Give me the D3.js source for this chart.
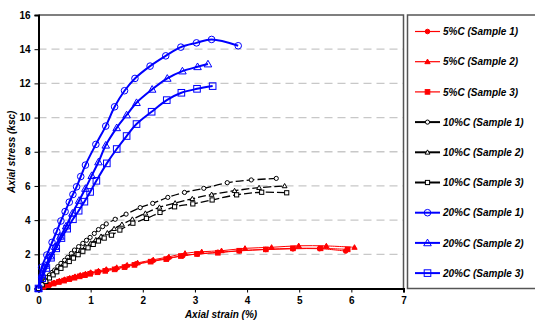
<!DOCTYPE html>
<html>
<head>
<meta charset="utf-8">
<script src="https://cdn.jsdelivr.net/npm/d3@7"></script>
<style>
  html, body { margin: 0; padding: 0; background: #fff; }
  svg { display: block; font-family: "Liberation Sans", Arial, sans-serif; }
</style>
</head>
<body>
<svg id="chart" width="535" height="323"></svg>
<script>
// Axis ticks
const xTicks = [0, 1, 2, 3, 4, 5, 6, 7];
const yTicks = [0, 2, 4, 6, 8, 10, 12, 14, 16];

// Series names (legend order)
const seriesNames = [
  "5%C (Sample 1)", "5%C (Sample 2)", "5%C (Sample 3)",
  "10%C (Sample 1)", "10%C (Sample 2)", "10%C (Sample 3)",
  "20%C (Sample 1)", "20%C (Sample 2)", "20%C (Sample 3)"
];

// 5% cement
const c5s1Strain = [0, 0.1, 0.2, 0.3, 0.4, 0.5, 0.6, 0.7, 0.8, 0.9, 1.0, 1.15, 1.3, 1.49, 1.68, 1.87, 2.19, 2.49, 2.77, 3.05, 3.44, 3.85, 4.36, 4.88, 5.39, 5.89];
const c5s1Stress = [0, 0.12, 0.22, 0.32, 0.42, 0.5, 0.58, 0.66, 0.74, 0.82, 0.9, 0.99, 1.07, 1.16, 1.3, 1.44, 1.62, 1.78, 1.92, 2.02, 2.12, 2.2, 2.28, 2.32, 2.33, 2.19];
const c5s2Strain = [0, 0.1, 0.2, 0.3, 0.4, 0.5, 0.6, 0.7, 0.8, 0.9, 1.0, 1.15, 1.3, 1.5, 1.7, 1.9, 2.2, 2.5, 2.81, 3.13, 3.51, 3.96, 4.47, 4.99, 5.52, 6.06];
const c5s2Stress = [0, 0.13, 0.24, 0.34, 0.44, 0.53, 0.61, 0.7, 0.78, 0.86, 0.94, 1.03, 1.12, 1.23, 1.37, 1.5, 1.68, 1.85, 2.06, 2.15, 2.21, 2.35, 2.41, 2.5, 2.49, 2.41];
const c5s3Strain = [0, 0.09, 0.19, 0.29, 0.39, 0.49, 0.59, 0.69, 0.79, 0.89, 0.99, 1.13, 1.28, 1.46, 1.65, 1.84, 2.15, 2.45, 2.73, 3.04, 3.44, 3.85, 4.36, 4.88, 5.41, 5.93];
const c5s3Stress = [0, 0.1, 0.2, 0.29, 0.38, 0.46, 0.55, 0.63, 0.71, 0.78, 0.86, 0.95, 1.03, 1.12, 1.25, 1.38, 1.57, 1.72, 1.9, 2.02, 2.09, 2.21, 2.29, 2.35, 2.35, 2.29];

// 10% cement
const c10s1Strain = [0, 0.06, 0.11, 0.16, 0.21, 0.26, 0.31, 0.37, 0.43, 0.5, 0.56, 0.63, 0.69, 0.77, 0.85, 0.92, 0.99, 1.07, 1.15, 1.23, 1.30, 1.47, 1.68, 1.95, 2.19, 2.48, 2.80, 3.17, 3.62, 4.08, 4.56];
const c10s1Stress = [0, 0.25, 0.5, 0.65, 0.79, 0.94, 1.08, 1.28, 1.47, 1.65, 1.82, 2.05, 2.25, 2.45, 2.64, 2.82, 2.99, 3.22, 3.45, 3.62, 3.78, 4.05, 4.35, 4.73, 4.98, 5.33, 5.62, 5.86, 6.19, 6.35, 6.44];
const c10s2Strain = [0, 0.07, 0.13, 0.2, 0.27, 0.34, 0.41, 0.48, 0.56, 0.64, 0.72, 0.81, 0.90, 1.0, 1.1, 1.2, 1.32, 1.45, 1.6, 1.8, 2.05, 2.32, 2.62, 2.95, 3.32, 3.76, 4.23, 4.72];
const c10s2Stress = [0, 0.25, 0.45, 0.65, 0.85, 1.05, 1.25, 1.45, 1.65, 1.85, 2.05, 2.25, 2.45, 2.65, 2.85, 3.05, 3.25, 3.5, 3.75, 4.05, 4.4, 4.75, 5.0, 5.25, 5.5, 5.72, 5.9, 6.0];
const c10s3Strain = [0, 0.07, 0.14, 0.21, 0.28, 0.35, 0.43, 0.51, 0.59, 0.67, 0.76, 0.85, 0.95, 1.05, 1.15, 1.26, 1.40, 1.56, 1.81, 2.07, 2.33, 2.61, 2.96, 3.33, 3.80, 4.28, 4.76];
const c10s3Stress = [0, 0.22, 0.42, 0.62, 0.8, 0.98, 1.18, 1.38, 1.58, 1.78, 1.98, 2.18, 2.38, 2.58, 2.78, 2.95, 3.12, 3.42, 3.82, 4.1, 4.45, 4.78, 4.95, 5.18, 5.48, 5.63, 5.60];

// 20% cement
const c20s1Strain = [0, 0.06, 0.16, 0.26, 0.35, 0.43, 0.51, 0.59, 0.66, 0.73, 0.81, 0.90, 1.10, 1.29, 1.46, 1.65, 1.85, 2.14, 2.44, 2.73, 3.03, 3.32, 3.83];
const c20s1Stress = [0, 1.24, 1.96, 2.70, 3.34, 3.95, 4.5, 5.05, 5.5, 5.95, 6.55, 7.22, 8.43, 9.50, 10.63, 11.57, 12.29, 13.01, 13.61, 14.12, 14.37, 14.57, 14.20];
const c20s2Strain = [0, 0.07, 0.14, 0.23, 0.32, 0.42, 0.53, 0.65, 0.78, 0.90, 1.02, 1.15, 1.29, 1.50, 1.69, 1.88, 2.18, 2.47, 2.76, 3.05, 3.25];
const c20s2Stress = [0, 0.8, 1.35, 1.9, 2.45, 3.05, 3.65, 4.4, 5.15, 5.85, 6.6, 7.4, 8.38, 9.40, 10.15, 10.87, 11.65, 12.29, 12.72, 12.97, 13.13];
const c20s3Strain = [0, 0.07, 0.15, 0.24, 0.34, 0.44, 0.55, 0.66, 0.77, 0.88, 0.99, 1.11, 1.31, 1.50, 1.69, 1.88, 2.17, 2.46, 2.74, 3.04, 3.34];
const c20s3Stress = [0, 0.6, 1.2, 1.8, 2.35, 2.95, 3.5, 4.05, 4.55, 5.08, 5.65, 6.3, 7.32, 8.16, 8.92, 9.62, 10.34, 11.02, 11.45, 11.68, 11.84];

const strains = [c5s1Strain, c5s2Strain, c5s3Strain, c10s1Strain, c10s2Strain, c10s3Strain, c20s1Strain, c20s2Strain, c20s3Strain];
const stresses = [c5s1Stress, c5s2Stress, c5s3Stress, c10s1Stress, c10s2Stress, c10s3Stress, c20s1Stress, c20s2Stress, c20s3Stress];

// Styling per cement content / sample
const groupStyle = [
  { color: "#ff0000", width: 1, dash: null, markerFill: "#ff0000", size: 2.3 },
  { color: "#000000", width: 1.3, dash: "8,3", markerFill: "#ffffff", size: 2.1 },
  { color: "#0000ff", width: 2, dash: null, markerFill: "none", size: 3.3 }
];
const markerShapes = ["circle", "triangle", "square"];

const svg = d3.select("#chart");
const m = { left: 38.5, right: 403.5, top: 15, bottom: 288.5 };

const x = d3.scaleLinear().domain([0, 7]).range([m.left, m.right]);
const y = d3.scaleLinear().domain([0, 16]).range([m.bottom, m.top]);

// Dashed horizontal gridlines
svg.append("g").selectAll("line")
  .data(yTicks.filter(t => t > 0 && t < 16))
  .join("line")
  .attr("x1", m.left).attr("x2", m.right)
  .attr("y1", d => y(d)).attr("y2", d => y(d))
  .attr("stroke", "#c8c8c8").attr("stroke-width", 1.3)
  .attr("stroke-dasharray", "8,5");

// Plot frame (top and right)
svg.append("path")
  .attr("d", `M${m.left},${m.top}H${m.right}V${m.bottom}`)
  .attr("fill", "none").attr("stroke", "#555").attr("stroke-width", 1.5);

// Legend box
svg.append("rect")
  .attr("x", 407.5).attr("y", 15).attr("width", 140).attr("height", 273.5)
  .attr("fill", "#fff").attr("stroke", "#555").attr("stroke-width", 1.5);

// Axes
const xAxis = d3.axisBottom(x).tickValues(xTicks).tickSize(4).tickPadding(4).tickFormat(d3.format("d"));
const yAxis = d3.axisLeft(y).tickValues(yTicks).tickSize(4).tickPadding(4).tickFormat(d3.format("d"));

const gx = svg.append("g").attr("transform", `translate(0,${m.bottom})`).call(xAxis);
const gy = svg.append("g").attr("transform", `translate(${m.left},0)`).call(yAxis);
[gx, gy].forEach(g => {
  g.select(".domain").attr("stroke", "#000").attr("stroke-width", 2);
  g.selectAll(".tick line").attr("stroke", "#000").attr("stroke-width", 1);
  g.selectAll(".tick text").attr("font-size", 10).attr("font-weight", "bold")
    .attr("font-family", "Liberation Sans, Arial, sans-serif").attr("fill", "#000");
});

// Axis titles
svg.append("text")
  .attr("x", 221).attr("y", 318)
  .attr("text-anchor", "middle")
  .attr("font-size", 10).attr("font-weight", "bold").attr("font-style", "italic")
  .text("Axial strain (%)");
svg.append("text")
  .attr("transform", `translate(15,${(m.top + m.bottom) / 2}) rotate(-90)`)
  .attr("text-anchor", "middle")
  .attr("font-size", 10).attr("font-weight", "bold").attr("font-style", "italic")
  .text("Axial stress (ksc)");

function drawMarker(g, shape, cx, cy, st) {
  const s = st.size;
  let el;
  if (shape === "circle") {
    el = g.append("circle").attr("cx", cx).attr("cy", cy).attr("r", s);
  } else if (shape === "triangle") {
    const h = s * 1.15;
    el = g.append("path").attr("d", `M${cx},${cy - h}L${cx + h},${cy + h * 0.75}L${cx - h},${cy + h * 0.75}Z`);
  } else {
    el = g.append("rect").attr("x", cx - s).attr("y", cy - s).attr("width", 2 * s).attr("height", 2 * s);
  }
  el.attr("fill", st.markerFill).attr("stroke", st.color).attr("stroke-width", 1);
}

const line = d3.line().x(d => x(d[0])).y(d => y(d[1])).curve(d3.curveCatmullRom.alpha(0.5));

const plot = svg.append("g");
// Draw from lowest group up so blue sits on top
seriesNames.forEach((name, i) => {
  const st = groupStyle[Math.floor(i / 3)];
  const shape = markerShapes[i % 3];
  const pts = strains[i].map((v, k) => [v, stresses[i][k]]);
  const g = plot.append("g");
  g.append("path").datum(pts)
    .attr("d", line)
    .attr("fill", "none").attr("stroke", st.color).attr("stroke-width", st.width)
    .attr("stroke-dasharray", st.dash);
  pts.forEach(p => drawMarker(g, shape, x(p[0]), y(p[1]), st));
});

// Legend entries
const legend = svg.append("g");
seriesNames.forEach((name, i) => {
  const st = groupStyle[Math.floor(i / 3)];
  const shape = markerShapes[i % 3];
  const ly = 31.5 + i * 30.2;
  const g = legend.append("g");
  g.append("line").attr("x1", 415).attr("x2", 440).attr("y1", ly).attr("y2", ly)
    .attr("stroke", st.color).attr("stroke-width", st.width === 1 ? 1.2 : 2);
  drawMarker(g, shape, 427.5, ly, st);
  g.append("text").attr("x", 443).attr("y", ly + 3.6)
    .attr("font-size", 10).attr("font-weight", "bold").attr("font-style", "italic")
    .text(name);
});
</script>
</body>
</html>
